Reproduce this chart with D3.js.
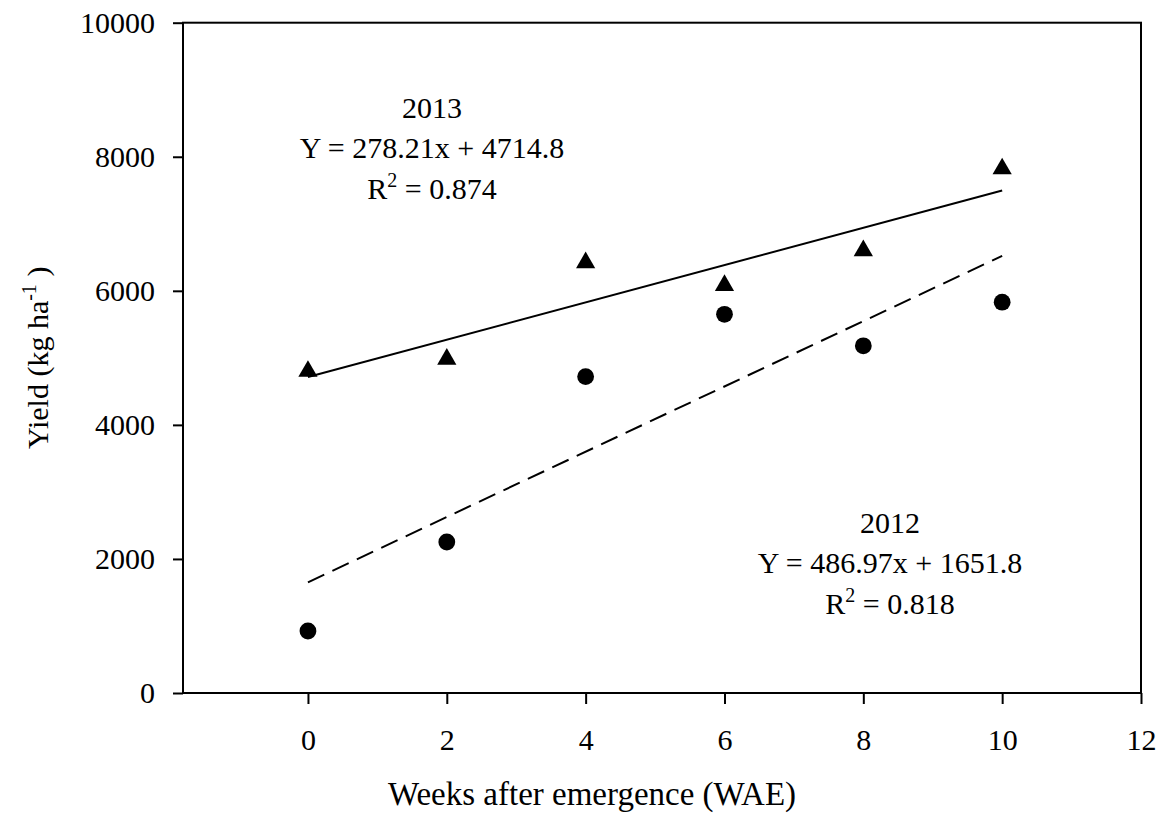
<!DOCTYPE html>
<html>
<head>
<meta charset="utf-8">
<script src="https://cdn.jsdelivr.net/npm/d3@7"></script>
<style>
  html, body { margin: 0; padding: 0; background: #fff; }
  svg { display: block; font-family: "Liberation Serif", "Times New Roman", serif; }
</style>
</head>
<body>
<svg id="chart" width="1165" height="821"></svg>
<script>
// ---- data ----
const xTicks = [0, 2, 4, 6, 8, 10, 12];
const yTicks = [0, 2000, 4000, 6000, 8000, 10000];
const weeks = [0, 2, 4, 6, 8, 10];
const yield2013 = [4800, 4980, 6420, 6080, 6600, 7820];
const yield2012 = [925, 2253, 4720, 5650, 5180, 5830];
const fit2013 = [278.21, 4714.8];   // slope, intercept
const fit2012 = [486.97, 1651.8];
const fitRange = [0, 10];
const label2013 = ["2013", "Y = 278.21x + 4714.8", "0.874"];
const label2012 = ["2012", "Y = 486.97x + 1651.8", "0.818"];
const xTitle = "Weeks after emergence (WAE)";

// ---- layout ----
const svg = d3.select("#chart");
const pL = 183, pR = 1141, pT = 22.7, pB = 693;
const x = d3.scaleLinear().domain([-1.8, 12]).range([pL, pR]);
const y = d3.scaleLinear().domain([0, 10000]).range([pB, pT]);
const fs = 30;

// frame
svg.append("rect")
  .attr("x", pL).attr("y", pT)
  .attr("width", pR - pL).attr("height", pB - pT)
  .attr("fill", "none").attr("stroke", "#000").attr("stroke-width", 2);

// axes
const xAxis = svg.append("g").attr("transform", `translate(0,${pB})`)
  .call(d3.axisBottom(x).tickValues(xTicks).tickSize(11).tickSizeOuter(0).tickPadding(25));
const yAxis = svg.append("g").attr("transform", `translate(${pL},0)`)
  .call(d3.axisLeft(y).tickValues(yTicks).tickSize(10).tickSizeOuter(0).tickPadding(18).tickFormat(d3.format("d")));
[xAxis, yAxis].forEach(g => {
  g.select(".domain").remove();
  g.selectAll("line").attr("stroke", "#000").attr("stroke-width", 2);
  g.selectAll("text").attr("fill", "#000")
    .style("font-family", '"Liberation Serif", "Times New Roman", serif')
    .style("font-size", fs + "px");
});

// regression lines
const line = d3.line().x(d => x(d[0])).y(d => y(d[1]));
function fitPts(f) { return fitRange.map(v => [v, f[0] * v + f[1]]); }
svg.append("path").datum(fitPts(fit2013)).attr("d", line)
  .attr("fill", "none").attr("stroke", "#000").attr("stroke-width", 2);
svg.append("path").datum(fitPts(fit2012)).attr("d", line)
  .attr("fill", "none").attr("stroke", "#000").attr("stroke-width", 2)
  .attr("stroke-dasharray", "18,9");

// points
svg.append("g").selectAll("path").data(weeks.map((w, i) => [w, yield2013[i]])).join("path")
  .attr("transform", d => `translate(${x(d[0])},${y(d[1])})`)
  .attr("d", d3.symbol().type(d3.symbolTriangle).size(160))
  .attr("fill", "#000");
svg.append("g").selectAll("circle").data(weeks.map((w, i) => [w, yield2012[i]])).join("circle")
  .attr("cx", d => x(d[0])).attr("cy", d => y(d[1])).attr("r", 8.4)
  .attr("fill", "#000");

// annotations
function annotate(lbl, cx, y0) {
  const g = svg.append("g").attr("font-size", fs).attr("text-anchor", "middle").attr("fill", "#000");
  g.append("text").attr("x", cx).attr("y", y0).text(lbl[0]);
  g.append("text").attr("x", cx).attr("y", y0 + 40).text(lbl[1]);
  const t = g.append("text").attr("x", cx).attr("y", y0 + 81);
  t.append("tspan").text("R");
  t.append("tspan").attr("dy", -12).attr("font-size", 20).text("2");
  t.append("tspan").attr("dy", 12).text(" = " + lbl[2]);
}
annotate(label2013, 432, 118);
annotate(label2012, 890, 533);

// axis titles
svg.append("text").attr("x", 592).attr("y", 805).attr("text-anchor", "middle")
  .attr("font-size", 33).attr("fill", "#000").text(xTitle);
const yt = svg.append("text").attr("transform", `translate(48,${(pT + pB) / 2}) rotate(-90)`)
  .attr("text-anchor", "middle").attr("font-size", fs).attr("fill", "#000");
yt.append("tspan").text("Yield (kg ha");
yt.append("tspan").attr("dy", -12).attr("font-size", 20).text("-1");
yt.append("tspan").attr("dy", 12).text(" )");
</script>
</body>
</html>
